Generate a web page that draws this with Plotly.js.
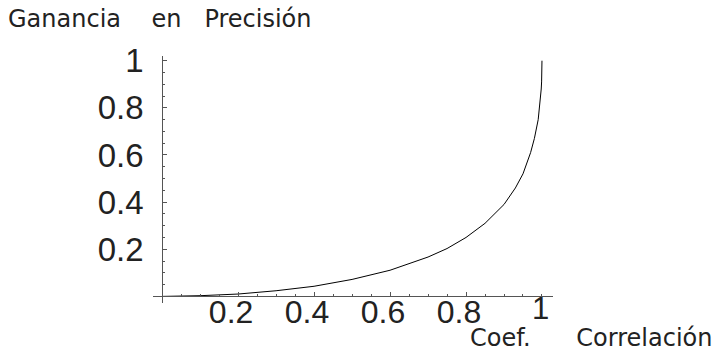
<!DOCTYPE html>
<html>
<head>
<meta charset="utf-8">
<script src="https://cdn.plot.ly/plotly-3.0.1.min.js"></script>
<style>html,body{margin:0;padding:0;background:#fff;}</style>
</head>
<body>
<div id="chart" style="width:715px;height:355px;"></div>
<script>
// Data
const correlation = [0, 0.1, 0.2, 0.3, 0.4, 0.5, 0.6, 0.7, 0.75, 0.8, 0.85, 0.9, 0.93, 0.95, 0.97, 0.98, 0.99, 0.995, 0.998, 0.999, 1.0];
const gain        = [0, 0.003, 0.010, 0.024, 0.043, 0.072, 0.111, 0.167, 0.203, 0.250, 0.310, 0.390, 0.460, 0.520, 0.610, 0.670, 0.750, 0.820, 0.880, 0.910, 1.0];

const xTickVals = [0.2, 0.4, 0.6, 0.8];
const xTickText = ["0.2", "0.4", "0.6", "0.8"];
const xEndVal = 1;
const xEndText = "1";
const yTickVals = [0.2, 0.4, 0.6, 0.8, 1];
const yTickText = ["0.2", "0.4", "0.6", "0.8", "1"];

const yTitle = "Ganancia\u00a0\u00a0\u00a0 en\u00a0\u00a0 Precisión";
const xTitle = "Coef.\u00a0\u00a0\u00a0\u00a0\u00a0 Correlación";

const xRange = [-0.024, 1.029];
const yRange = [-0.028, 1.02];

const margin = {l: 153, r: 162, t: 56, b: 52};
const W = 715, H = 355;
const pw = W - margin.l - margin.r, ph = H - margin.t - margin.b;
const px2paperX = p => (p - margin.l) / pw;
const px2paperY = p => (H - margin.b - p) / ph;
const xPos = (0 - yRange[0]) / (yRange[1] - yRange[0]);
const yPos = (0 - xRange[0]) / (xRange[1] - xRange[0]);
const xLabelPos = xPos + 6 / ph;

const axisColor = '#555';
const tickFont = {family: 'Liberation Sans, Arial, sans-serif', size: 32, color: '#222'};
const labelFont = {family: 'DejaVu Sans, sans-serif', size: 24, color: '#222'};

const trace = {
  x: correlation, y: gain, type: 'scatter', mode: 'lines',
  line: {color: '#000', width: 1}, hoverinfo: 'skip'
};
// empty helper trace so the label-only axis is drawn
const labelAxisTrace = {x: [], y: [], xaxis: 'x2', yaxis: 'y', type: 'scatter', mode: 'lines', hoverinfo: 'skip', showlegend: false};

const minorTicks = {tickmode: 'linear', tick0: 0, dtick: 0.05, ticks: 'inside', ticklen: 2, tickwidth: 1, tickcolor: axisColor, showgrid: false};

const layout = {
  width: W, height: H, margin: margin,
  paper_bgcolor: '#fff', plot_bgcolor: '#fff', showlegend: false,
  xaxis: {
    range: xRange, anchor: 'free', position: xPos,
    showline: true, linecolor: axisColor, linewidth: 1,
    showgrid: false, zeroline: false,
    tickmode: 'array', tickvals: xTickVals, ticktext: xTickText,
    ticks: 'inside', ticklen: 4, tickwidth: 1, tickcolor: axisColor,
    showticklabels: false,
    minor: minorTicks
  },
  xaxis2: {
    range: xRange, anchor: 'free', position: xLabelPos, overlaying: 'x',
    showline: false, showgrid: false, zeroline: false,
    tickmode: 'array', tickvals: xTickVals, ticktext: xTickText,
    ticks: '', tickfont: tickFont, ticklabelshift: -7
  },
  yaxis: {
    range: yRange, anchor: 'free', position: yPos,
    showline: true, linecolor: axisColor, linewidth: 1,
    showgrid: false, zeroline: false,
    tickmode: 'array', tickvals: yTickVals, ticktext: yTickText,
    ticks: 'inside', ticklen: 4, tickwidth: 1, tickcolor: axisColor,
    tickfont: Object.assign({}, tickFont, {size: 33}), ticklabelstandoff: 12,
    minor: minorTicks
  },
  annotations: [
    {text: xEndText, xref: 'x', yref: 'y', x: xEndVal, y: 0, xanchor: 'center', yanchor: 'middle',
     xshift: -1, yshift: -12, showarrow: false, font: Object.assign({}, tickFont, {size: 31})},
    {text: yTitle, xref: 'paper', yref: 'paper', x: px2paperX(6), y: px2paperY(3), xanchor: 'left', yanchor: 'top',
     showarrow: false, font: labelFont},
    {text: xTitle, xref: 'paper', yref: 'paper', x: px2paperX(714), y: px2paperY(354), xanchor: 'right', yanchor: 'bottom',
     showarrow: false, font: labelFont}
  ]
};

Plotly.newPlot('chart', [trace, labelAxisTrace], layout, {staticPlot: true, displayModeBar: false});
</script>
</body>
</html>
